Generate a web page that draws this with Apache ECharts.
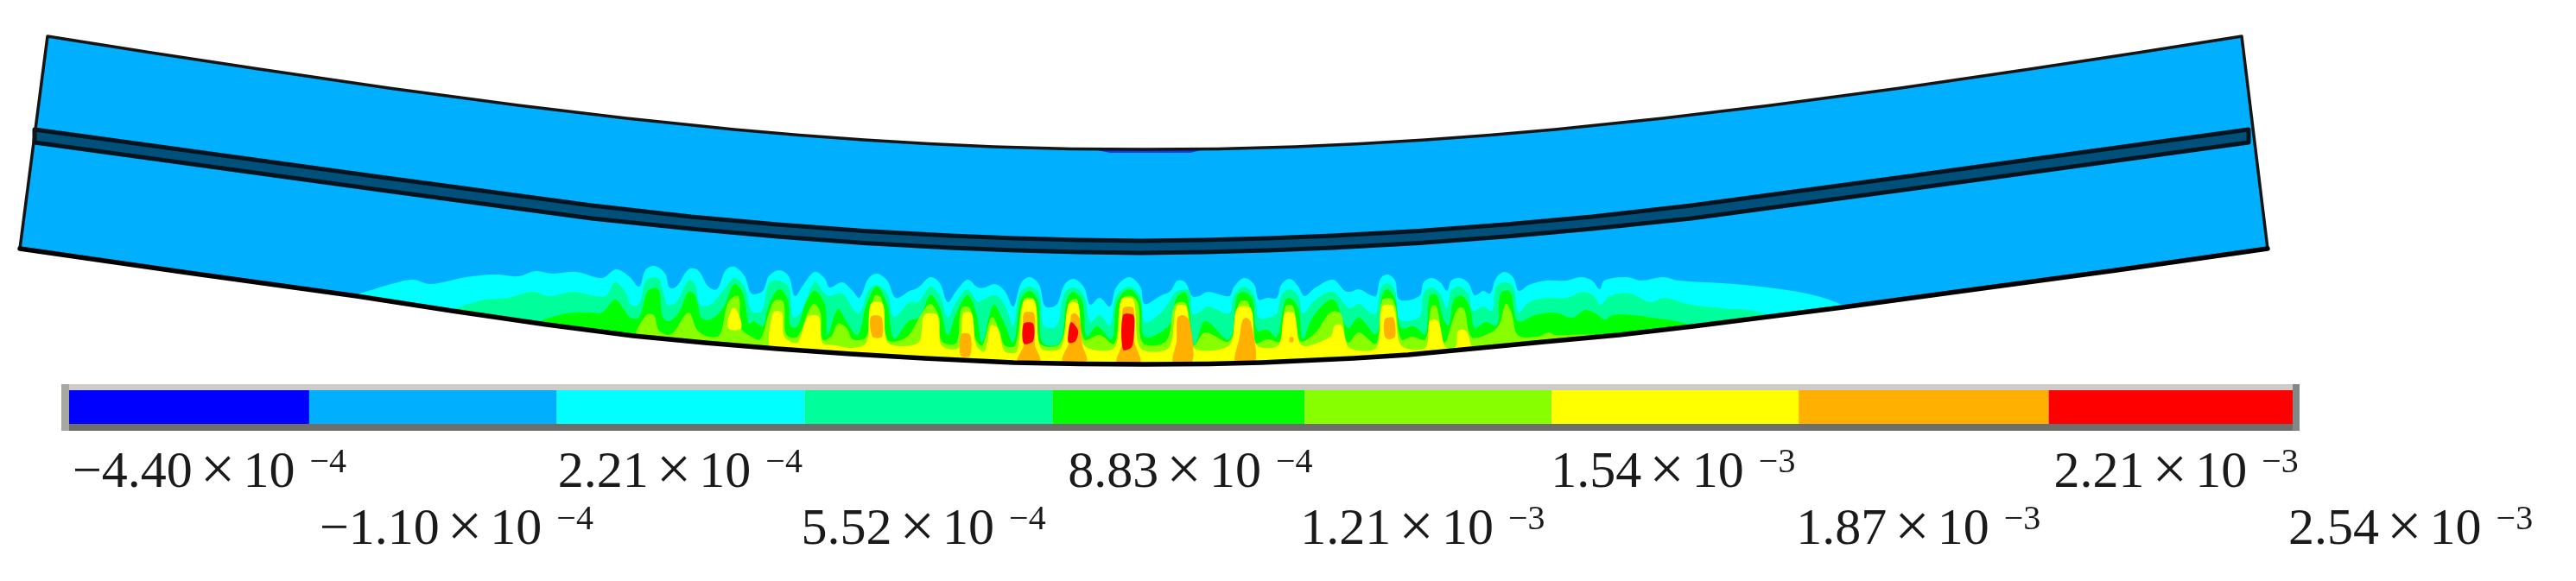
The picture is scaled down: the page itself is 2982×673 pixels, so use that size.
<!DOCTYPE html>
<html><head><meta charset="utf-8">
<style>html,body{margin:0;padding:0;background:#fff}#c{width:2982px;height:673px}#c canvas{filter:blur(.7px)}</style>
<script src="https://cdn.jsdelivr.net/npm/echarts@6/dist/echarts.min.js"></script>
</head><body><div id="c"></div>
<script>
// Legend
const bandColors=['#0000ff','#00b0ff','#00ffff','#00ff9b','#00ff00','#88ff00','#ffff00','#ffb000','#ff0000'];
const tickValues=[-4.40e-4,-1.10e-4,2.21e-4,5.52e-4,8.83e-4,1.22e-3,1.55e-3,1.88e-3,2.214e-3,2.54e-3];
const tickMantissas=['−4.40','−1.10','2.21','5.52','8.83','1.21','1.54','1.87','2.21','2.54'];
const tickExponents=['−4','−4','−4','−4','−4','−3','−3','−3','−3','−3'];
const tickNudges=[12,12,1,-4,18,-5,-1,-3,6,-5];
// Beam geometry (image units)
const beamTop=[[55,42],[175,61],[300,80],[450,102],[600,122],[725,137],[850,150],[925,156.5],[1000,162],[1075,166.5],[1150,170],[1240,172.5],[1325,173],[1410,172.5],[1500,170],[1575,166.5],[1650,162],[1725,156.5],[1800,150],[1925,137],[2050,122],[2200,102],[2350,80],[2475,61],[2595,42]];
const beamBottom=[[23,288],[218,316],[413,343],[523,360],[633,376],[733,389],[816,397],[900,404],[985,410],[1070,415],[1173,420],[1250,421.5],[1325,422],[1400,421.5],[1460,420],[1567,415],[1630,411],[1693,405],[1787,396],[1874,388],[1960,378],[2133,356],[2280,336],[2450,313],[2625,288]];
const layerTop=[[40,150],[120,161],[200,172],[440,205],[685,238],[800,251],[900,260],[1000,267.5],[1100,273],[1175,276],[1250,278],[1321,279],[1393,278],[1468,276],[1543,273],[1643,267.5],[1743,260],[1843,251],[1958,238],[2203,205],[2443,172],[2523,161],[2603,150]];
const layerBottom=[[40,165],[120,176],[200,187],[440,220],[685,253],[800,265],[900,274],[1000,281.5],[1100,287],[1175,290],[1250,292],[1321,293],[1393,292],[1468,290],[1543,287],[1643,281.5],[1743,274],[1843,265],[1958,253],[2203,220],[2443,187],[2523,176],[2603,165]];
const surfaceStrip=[[1270,174],[1390,174],[1378,177],[1285,177]];
// Contour fronts, left to right; each closes along beamBottom
const frontCyan=[[413,343],[433,335],[457,328],[478,324],[497,329],[517,326],[540,321],[573,318],[600,320],[620,314],[640,317],[667,315],[697,322],[713,312],[728,320],[740,332],[747,313],[758,308],[770,317],[775,333],[783,332],[797,312],[808,313],[820,332],[830,335],[840,313],[850,309],[862,320],[870,340],[883,337],[890,320],[902,313],[913,320],[920,343],[930,330],[943,315],[955,323],[960,333],[975,327],[987,337],[995,345],[1005,323],[1015,317],[1027,325],[1037,345],[1053,337],[1063,333],[1077,321],[1088,328],[1097,350],[1107,337],[1120,324],[1132,333],[1140,333],[1152,329],[1163,337],[1173,355],[1182,328],[1192,321],[1203,330],[1210,355],[1223,353],[1232,330],[1243,323],[1255,333],[1262,353],[1273,345],[1285,355],[1292,333],[1307,321],[1320,332],[1325,352],[1343,343],[1355,337],[1363,325],[1372,327],[1380,343],[1388,343],[1398,338],[1423,343],[1428,333],[1440,322],[1452,330],[1457,347],[1467,345],[1478,345],[1483,330],[1493,323],[1503,332],[1510,343],[1523,333],[1543,324],[1557,337],[1563,338],[1573,335],[1587,342],[1593,343],[1598,323],[1606,318],[1615,325],[1620,347],[1643,343],[1648,327],[1658,322],[1668,328],[1675,337],[1680,325],[1690,322],[1700,328],[1707,342],[1717,337],[1725,340],[1732,322],[1742,315],[1752,322],[1758,337],[1770,330],[1790,325],[1813,325],[1830,321],[1843,325],[1852,335],[1857,325],[1883,321],[1900,325],[1925,321],[1943,325],[1993,328],[2047,333],[2100,342],[2137,355]];
const frontSpring=[[528,360],[557,348],[587,345],[617,338],[637,343],[663,338],[690,343],[702,342],[712,327],[725,340],[730,353],[740,352],[748,325],[762,322],[768,340],[773,353],[783,350],[797,325],[805,330],[810,353],[822,353],[837,337],[850,322],[862,333],[870,360],[882,360],[890,328],[902,325],[913,333],[918,367],[927,362],[943,327],[955,340],[960,343],[975,340],[987,357],[995,363],[1005,337],[1015,330],[1027,340],[1035,367],[1053,350],[1063,350],[1077,332],[1088,343],[1097,367],[1107,350],[1120,335],[1132,350],[1138,347],[1152,342],[1163,353],[1173,377],[1180,340],[1192,332],[1203,340],[1208,377],[1223,378],[1232,340],[1243,333],[1255,343],[1262,373],[1273,365],[1285,377],[1292,343],[1307,332],[1320,343],[1325,373],[1343,363],[1355,347],[1363,337],[1377,337],[1380,363],[1388,362],[1398,355],[1423,363],[1428,343],[1440,332],[1452,343],[1457,368],[1467,368],[1478,363],[1483,343],[1493,335],[1503,343],[1508,363],[1523,347],[1543,338],[1557,353],[1563,357],[1573,352],[1587,363],[1593,363],[1598,335],[1606,328],[1615,337],[1620,370],[1643,367],[1648,340],[1658,333],[1668,342],[1675,357],[1680,337],[1690,332],[1700,342],[1705,360],[1717,355],[1727,360],[1732,333],[1742,327],[1752,333],[1758,362],[1770,350],[1790,345],[1813,345],[1833,338],[1845,343],[1853,353],[1863,343],[1887,340],[1910,350],[1927,345],[1953,352],[1993,357],[2030,360],[2047,367]];
const frontGreen=[[627,372],[647,365],[663,362],[683,362],[697,362],[712,347],[722,358],[730,368],[740,367],[750,337],[762,335],[767,367],[775,372],[787,360],[797,338],[805,343],[812,368],[822,370],[837,357],[850,329],[860,340],[867,375],[873,372],[883,378],[890,353],[902,335],[912,347],[915,378],[923,378],[933,350],[943,337],[955,353],[958,388],[970,358],[980,373],[993,388],[1003,353],[1015,332],[1027,353],[1035,392],[1052,372],[1065,367],[1077,342],[1088,357],[1097,388],[1107,363],[1120,342],[1130,363],[1137,397],[1150,353],[1162,373],[1173,397],[1182,347],[1192,337],[1202,350],[1207,397],[1227,397],[1235,347],[1243,338],[1253,350],[1258,390],[1270,378],[1287,393],[1293,350],[1307,335],[1320,350],[1325,390],[1353,377],[1362,345],[1373,339],[1383,400],[1395,372],[1423,393],[1432,343],[1440,338],[1450,347],[1455,383],[1467,382],[1478,390],[1487,350],[1493,345],[1503,357],[1508,393],[1520,367],[1543,347],[1560,380],[1573,368],[1593,387],[1600,343],[1606,335],[1615,347],[1622,380],[1637,378],[1650,387],[1655,343],[1663,342],[1670,367],[1677,377],[1683,347],[1693,343],[1702,357],[1707,380],[1720,373],[1733,377],[1737,340],[1748,338],[1757,372],[1777,365],[1800,362],[1820,368],[1835,359],[1847,363],[1858,370],[1867,365],[1890,365],[1913,368],[1940,372],[1957,378]];
const frontLime=[[738,390],[748,365],[757,365],[763,383],[777,387],[797,362],[807,382],[820,390],[833,388],[843,350],[855,343],[858,380],[870,390],[880,393],[890,363],[897,348],[907,350],[910,387],[923,390],[937,358],[943,352],[950,363],[952,393],[962,390],[970,375],[980,380],[987,393],[1003,390],[1012,343],[1020,345],[1027,393],[1040,395],[1053,387],[1067,363],[1077,352],[1087,367],[1090,395],[1107,397],[1113,357],[1123,357],[1128,390],[1137,400],[1148,367],[1157,383],[1163,400],[1175,400],[1185,347],[1197,347],[1203,397],[1227,398],[1238,350],[1247,347],[1255,393],[1273,388],[1290,398],[1298,347],[1310,343],[1318,353],[1323,397],[1350,395],[1360,353],[1373,352],[1382,400],[1395,385],[1423,395],[1435,350],[1445,350],[1453,397],[1467,393],[1482,395],[1488,355],[1497,355],[1505,395],[1523,385],[1540,362],[1552,363],[1560,397],[1573,385],[1593,398],[1600,348],[1613,348],[1622,393],[1635,390],[1650,393],[1657,355],[1663,355],[1672,397],[1687,358],[1695,358],[1703,390],[1720,388],[1735,377],[1743,352],[1750,363],[1757,388],[1780,390],[1793,385],[1800,388],[1845,388],[1848,392]];
const frontYellow=[[890,403],[895,362],[905,362],[908,390],[923,397],[935,367],[948,367],[952,397],[967,400],[987,403],[1003,397],[1008,352],[1022,352],[1028,397],[1063,397],[1070,365],[1085,365],[1090,400],[1110,403],[1115,363],[1125,363],[1130,400],[1140,407],[1147,377],[1155,380],[1163,407],[1177,407],[1185,349],[1198,349],[1205,403],[1228,403],[1237,352],[1248,352],[1255,400],[1290,403],[1298,347],[1312,347],[1320,403],[1353,403],[1362,355],[1373,355],[1382,403],[1423,400],[1432,357],[1448,357],[1455,400],[1480,400],[1487,363],[1498,363],[1507,400],[1540,390],[1545,377],[1553,377],[1562,403],[1593,403],[1600,355],[1613,355],[1622,400],[1650,403],[1655,372],[1665,372],[1673,402],[1685,402],[1688,383],[1697,383],[1703,400],[1705,407]];
// Closed patches
const yellowPatches=[[[843,380],[847,358],[852,358],[858,380]]];
const orangePatches=[
 [[1008,367],[1020,367],[1021,390],[1010,390]],
 [[1113,387],[1123,388],[1123,412],[1112,412]],
 [[1178,418],[1185,400],[1185,363],[1197,363],[1198,400],[1204,418]],
 [[1230,418],[1238,395],[1240,365],[1245,363],[1250,370],[1253,400],[1258,418]],
 [[1293,420],[1300,395],[1300,357],[1312,357],[1313,395],[1320,420]],
 [[1358,420],[1362,395],[1363,368],[1370,365],[1377,372],[1380,420]],
 [[1430,420],[1435,390],[1438,372],[1442,368],[1448,373],[1453,420]],
 [[1603,370],[1613,368],[1615,390],[1608,393],[1603,390]],
 [[1493,391],[1497,391],[1497,396],[1493,396]]
];
const redPatches=[
 [[1185,375],[1196,375],[1196,395],[1185,398]],
 [[1240,373],[1248,383],[1245,395],[1237,397],[1237,383]],
 [[1300,365],[1312,365],[1313,383],[1310,402],[1300,405]]
];

const closeFront=f=>{const x0=f[0][0],x1=f[f.length-1][0];
  const back=beamBottom.filter(p=>p[0]>x0&&p[0]<x1).reverse();return f.concat(back);};
const rev=a=>a.slice().reverse();
const mask=beamBottom.concat([[2625,340],[2625,440],[23,440],[23,340]]);
const outlineUpper=[beamBottom[0]].concat(beamTop,[beamBottom[beamBottom.length-1]]);
const shapes=[
 {p:beamTop.concat(rev(beamBottom)),fill:'#00b0ff'},
 {p:surfaceStrip,fill:'#0a3ce8'},
 {p:closeFront(frontCyan),fill:bandColors[2],smooth:.35},
 {p:closeFront(frontSpring),fill:bandColors[3],smooth:.35},
 {p:closeFront(frontGreen),fill:bandColors[4],smooth:.35},
 {p:closeFront(frontLime),fill:bandColors[5],smooth:.35},
 {p:closeFront(frontYellow),fill:bandColors[6],smooth:.3},
 ...yellowPatches.map(p=>({p,fill:bandColors[6],smooth:.4})),
 ...orangePatches.map(p=>({p,fill:bandColors[7],smooth:.3})),
 ...redPatches.map(p=>({p,fill:bandColors[8],smooth:.3})),
 {p:mask,fill:'#ffffff'},
 {p:layerTop.concat(rev(layerBottom)),fill:'#00507c',stroke:'#03141f',lw:5},
 {p:outlineUpper,stroke:'#151515',lw:3.5,line:true},
 {p:beamBottom,stroke:'#000000',lw:5.5,line:true}
];

const BAR_TOP=452,BAR_H=39,ROW1=516,ROW2=582;
const chart=echarts.init(document.getElementById('c'),null,{renderer:'canvas'});
chart.setOption({
 animation:false,backgroundColor:'#fff',
 grid:[{left:0,top:0,width:2982,height:673},{left:72,top:BAR_TOP,width:2582,height:BAR_H}],
 xAxis:[{type:'value',min:0,max:2982,show:false},{type:'value',gridIndex:1,min:tickValues[0],max:tickValues[9],show:false}],
 yAxis:[{type:'value',min:0,max:673,inverse:true,show:false},{type:'value',gridIndex:1,min:0,max:1,show:false}],
 series:[
  {type:'custom',coordinateSystem:'cartesian2d',xAxisIndex:0,yAxisIndex:0,clip:false,silent:true,z:2,
   data:shapes.map((s,i)=>[i]),encode:{x:[],y:[]},
   renderItem:(ps,api)=>{const s=shapes[api.value(0)];
     return {type:s.line?'polyline':'polygon',shape:{points:s.p.map(q=>api.coord(q)),smooth:s.smooth||0},
       style:{fill:s.fill||null,stroke:s.stroke||null,lineWidth:s.lw||0,lineJoin:'round',lineCap:'round'}};}},
  {type:'custom',coordinateSystem:'cartesian2d',xAxisIndex:1,yAxisIndex:1,clip:false,silent:true,z:3,
   data:bandColors.map((c,i)=>[tickValues[i],tickValues[i+1],i]),encode:{x:[0,1],y:[]},
   renderItem:(ps,api)=>{const a=api.coord([api.value(0),1]),b=api.coord([api.value(1),0]);
     return {type:'rect',shape:{x:a[0],y:a[1],width:b[0]-a[0],height:b[1]-a[1]},style:{fill:bandColors[api.value(2)]}};}},
  {type:'custom',coordinateSystem:'cartesian2d',xAxisIndex:1,yAxisIndex:1,clip:false,silent:true,z:6,
   data:tickValues.map((v,i)=>[v,i]),encode:{x:0,y:[]},
   renderItem:(ps,api)=>{const i=api.value(1),c=api.coord([api.value(0),0]);
     return {type:'text',x:c[0]+tickNudges[i],y:i%2?ROW2:ROW1,z2:5,
       style:{text:`{m|${tickMantissas[i]}}{x|×}{m|10}{e|${tickExponents[i]}}`,textAlign:'left',textVerticalAlign:'top',
        fill:'#1a1a1a',font:'60px "Liberation Serif"',
        rich:{m:{fontFamily:'Liberation Serif',fontSize:60,lineHeight:64,fill:'#1a1a1a'},
              x:{fontFamily:'Liberation Serif',fontSize:72,lineHeight:64,fill:'#1a1a1a',padding:[0,9,0,9]},
              e:{fontFamily:'Liberation Serif',fontSize:40,lineHeight:64,fill:'#1a1a1a',verticalAlign:'top',padding:[0,0,0,17]}}}};}}
 ],
 graphic:[
  {type:'rect',z:5,shape:{x:71,y:445,width:2591,height:7},style:{fill:'#cfcbc8'}},
  {type:'rect',z:5,shape:{x:71,y:491,width:2591,height:8},style:{fill:'#6e6e6a'}},
  {type:'rect',z:5,shape:{x:71,y:445,width:9,height:54},style:{fill:'#a8a8a2'}},
  {type:'rect',z:5,shape:{x:2654,y:445,width:8,height:54},style:{fill:'#838786'}}
 ]
});
</script></body></html>
